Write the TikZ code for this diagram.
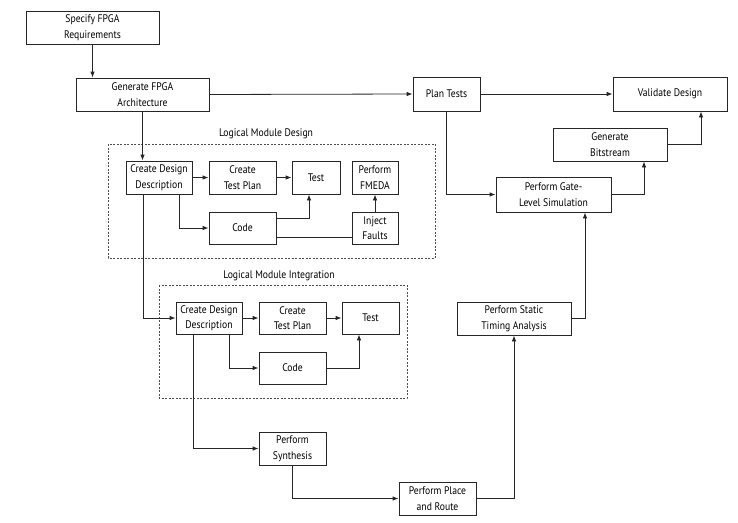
\documentclass[tikz,border=0pt]{standalone}
\usepackage{fontspec}
\setmainfont{PT Sans}[FakeStretch=0.88]
\usetikzlibrary{arrows.meta}
\begin{document}
\begin{tikzpicture}[x=1pt,y=-1pt,
  box/.style={draw=black!85, line width=0.8pt, inner sep=0pt, align=center,
    font=\fontsize{11}{15.5}\selectfont, minimum height=33pt},
  conn/.style={draw=black!85, line width=0.8pt},
  arr/.style={conn, -{Latex[length=6pt,width=4.5pt]}},
  grp/.style={draw=black!70, line width=0.6pt, dash pattern=on 2pt off 1.5pt},
  lbl/.style={font=\fontsize{11}{15.5}\selectfont, inner sep=0pt}]
\useasboundingbox (0,0) rectangle (738,522);
% group frames
\draw[grp] (108,144) rectangle (435,258);
\node[lbl] (lab1) at (266,134) {Logical Module Design};
\draw[grp] (159,285) rectangle (407,398);
\node[lbl] (lab2) at (279,276) {Logical Module Integration};
% nodes
\node[box, minimum width=133pt] (req) at (92.5,27.5) {Specify FPGA\\Requirements};
\node[box, minimum width=133pt] (arch) at (142.5,94.5) {Generate FPGA\\Architecture};
\node[box, minimum width=67pt, minimum height=34pt] (plan) at (446.5,94) {Plan Tests};
\node[box, minimum width=114pt, minimum height=34pt] (val) at (670,94) {Validate Design};
\node[box, minimum width=66pt] (cdd1) at (159,177.5) {Create Design\\Description};
\node[box, minimum width=67pt] (ctp1) at (242.5,177.5) {Create\\Test Plan};
\node[box, minimum width=48pt] (test1) at (316,177.5) {Test};
\node[box, minimum width=46pt] (fmeda) at (375,177.5) {Perform\\FMEDA};
\node[box, minimum width=67pt, minimum height=32pt] (code1) at (242.5,228) {Code};
\node[box, minimum width=46pt, minimum height=32pt] (inj) at (375,228) {Inject\\Faults};
\node[box, minimum width=66pt, minimum height=32pt] (cdd2) at (209,318) {Create Design\\Description};
\node[box, minimum width=67pt, minimum height=32pt] (ctp2) at (292.5,318) {Create\\Test Plan};
\node[box, minimum width=57pt, minimum height=32pt] (test2) at (370.5,318) {Test};
\node[box, minimum width=67pt, minimum height=32pt] (code2) at (292.5,368) {Code};
\node[box, minimum width=67pt] (synth) at (292.5,448.5) {Perform\\Synthesis};
\node[box, minimum width=77pt] (pr) at (437.5,498.5) {Perform Place\\and Route};
\node[box, minimum width=114pt] (sta) at (514,318.5) {Perform Static\\Timing Analysis};
\node[box, minimum width=115pt, minimum height=35pt] (gls) at (553.5,194.5) {Perform Gate-\\Level Simulation};
\node[box, minimum width=114pt] (bit) at (610,144.5) {Generate\\Bitstream};
% connectors
\draw[arr] (req.south) -- (req.south |- arch.north);
\draw[arr] (arch.east) -- (plan.west);
\draw[arr] (plan.east) -- (val.west);
\draw[arr] (arch.south) -- (arch.south |- cdd1.north);
\draw[arr] (cdd1.east) -- (ctp1.west);
\draw[arr] (ctp1.east) -- (test1.west);
\draw[arr] ([xshift=20pt]cdd1.south) |- (code1.west);
\draw[arr] ([yshift=10pt]code1.east) -| ([xshift=-7pt]test1.south);
\draw[conn] ([yshift=-9pt]code1.east) -- ([yshift=-9pt]inj.west);
\draw[arr] (inj.north) -- (fmeda.south);
\draw[arr] ([xshift=-16pt]cdd1.south) |- (cdd2.west);
\draw[arr] (cdd2.east) -- (ctp2.west);
\draw[arr] (ctp2.east) -- (test2.west);
\draw[arr] ([xshift=20pt]cdd2.south) |- (code2.west);
\draw[arr] (code2.east) -| ([xshift=-11.5pt]test2.south);
\draw[arr] ([xshift=-16pt]cdd2.south) |- (synth.west);
\draw[arr] (synth.south) |- (pr.west);
\draw[arr] (pr.east) -| (sta.south);
\draw[arr] (sta.east) -| ([xshift=31.5pt]gls.south);
\draw[arr] (plan.south) |- (gls.west);
\draw[arr] (gls.east) -| ([xshift=34pt]bit.south);
\draw[arr] (bit.east) -| ([xshift=31pt]val.south);
\end{tikzpicture}
\end{document}
